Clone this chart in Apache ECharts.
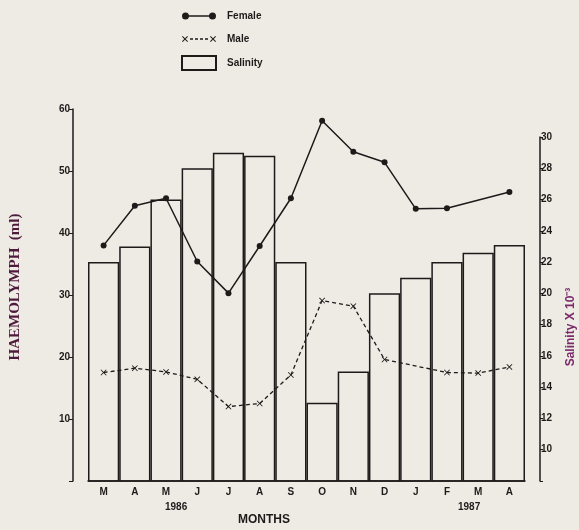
<!DOCTYPE html>
<html>
<head>
<meta charset="utf-8">
<script src="https://cdn.jsdelivr.net/npm/echarts@6/dist/echarts.min.js"></script>
<style>
  html, body { margin: 0; padding: 0; background: #eeebe5; }
  #chart { width: 579px; height: 530px; }
</style>
</head>
<body>
<div id="chart"></div>
<script>
// months Mar 1986 .. Apr 1987
var months = ['M', 'A', 'M', 'J', 'J', 'A', 'S', 'O', 'N', 'D', 'J', 'F', 'M', 'A'];
var salinity = [22, 23, 26, 28, 29, 28.8, 22, 13, 15, 20, 21, 22, 22.6, 23.1];
var female = [38, 44.4, 45.6, 35.4, 30.3, 37.9, 45.6, 58.1, 53.1, 51.4, 43.9, 44, null, 46.6];
var male = [17.5, 18.2, 17.6, 16.4, 12.0, 12.5, 17.1, 29.1, 28.2, 19.6, null, 17.5, 17.4, 18.4];
var leftTicks = [0, 60, 10];   // min, max, interval
var rightTicks = [8, 30, 2];

var ink = '#1e1a1a';
var crossPath = 'path://M0,1L1,0L5,4L9,0L10,1L6,5L10,9L9,10L5,6L1,10L0,9L4,5Z';
var boldFont = { color: ink, fontSize: 10, fontWeight: 'bold', fontFamily: 'Liberation Sans' };

// legend icons: marker at each end like the printed key (34 x 14 box)
var pad = 'M0,0L0.01,0L0,0.01Z M34,14L33.99,14L34,13.99Z ';
function dot(cx) {
    return 'M' + (cx - 3.5) + ',7A3.5,3.5,0,1,1,' + (cx + 3.5) + ',7A3.5,3.5,0,1,1,' + (cx - 3.5) + ',7Z ';
}
function cross(cx) {
    var p = [[-3, -2.3], [-2.3, -3], [0, -0.7], [2.3, -3], [3, -2.3], [0.7, 0],
             [3, 2.3], [2.3, 3], [0, 0.7], [-2.3, 3], [-3, 2.3], [-0.7, 0]];
    return p.map(function (q, i) { return (i ? 'L' : 'M') + (cx + q[0]) + ',' + (7 + q[1]); }).join('') + 'Z ';
}
var femaleIcon = 'path://' + pad + dot(3.5) + 'M6,6.2L28,6.2L28,7.8L6,7.8Z ' + dot(30.5);
var maleIcon = 'path://' + pad + cross(3) +
    'M8,6.3L11,6.3L11,7.7L8,7.7Z M13,6.3L16,6.3L16,7.7L13,7.7Z M18,6.3L21,6.3L21,7.7L18,7.7Z M23,6.3L26,6.3L26,7.7L23,7.7Z ' +
    cross(31);

var chart = echarts.init(document.getElementById('chart'));
var option = {
    backgroundColor: '#eeebe5',
    animation: false,
    legend: {
        orient: 'vertical',
        left: 176,
        top: 4,
        itemWidth: 34,
        itemHeight: 14,
        itemGap: 9,
        data: [
            { name: 'Female', icon: femaleIcon },
            { name: 'Male', icon: maleIcon },
            { name: 'Salinity', icon: 'rect' }
        ],
        textStyle: { color: ink, fontSize: 10, fontWeight: 'bold', fontFamily: 'Liberation Sans', padding: [0, 0, 0, 6] }
    },
    grid: [
        { left: 88, right: 54, top: 109, bottom: 49, outerBoundsMode: 'none' },
        { left: 88, right: 54, top: 137, bottom: 49, outerBoundsMode: 'none' }
    ],
    xAxis: [
        {
            gridIndex: 0,
            type: 'category',
            data: months,
            axisLine: { lineStyle: { color: ink, width: 1.5 } },
            axisTick: { show: false },
            axisLabel: { color: ink, fontSize: 10, fontWeight: 'bold', fontFamily: 'Liberation Sans', margin: 6 }
        },
        {
            gridIndex: 1,
            type: 'category',
            data: months,
            show: false
        }
    ],
    yAxis: [
        {
            gridIndex: 0,
            type: 'value',
            position: 'left',
            offset: 15,
            min: leftTicks[0],
            max: leftTicks[1],
            interval: leftTicks[2],
            name: 'HAEMOLYMPH  (ml)',
            nameLocation: 'middle',
            nameGap: 50,
            nameRotate: 90,
            nameTextStyle: { color: '#4e1a3c', fontSize: 15, fontWeight: 'bold', fontFamily: 'Liberation Serif', padding: [0, 0, 0, 16] },
            axisLine: { show: true, lineStyle: { color: ink, width: 1.5 } },
            axisTick: { show: true, length: 4, lineStyle: { color: ink } },
            axisLabel: Object.assign({ margin: 3, formatter: function (v) { return v === 0 ? '' : v; } }, boldFont),
            splitLine: { show: false }
        },
        {
            gridIndex: 1,
            type: 'value',
            position: 'right',
            offset: 15,
            min: rightTicks[0],
            max: rightTicks[1],
            interval: rightTicks[2],
            name: 'Salinity X 10\u207B\u00B3',
            nameLocation: 'middle',
            nameGap: 25,
            nameRotate: 90,
            nameTextStyle: { color: '#7b2a6c', fontSize: 12, fontWeight: 'bold', fontFamily: 'Liberation Sans', padding: [0, 36, 0, 0] },
            axisLine: { show: true, lineStyle: { color: ink, width: 1.5 } },
            axisTick: { show: true, length: 3, lineStyle: { color: ink } },
            axisLabel: Object.assign({ margin: 1, formatter: function (v) { return v === 8 ? '' : v; } }, boldFont),
            splitLine: { show: false }
        }
    ],
    series: [
        {
            name: 'Salinity',
            type: 'bar',
            xAxisIndex: 1,
            yAxisIndex: 1,
            data: salinity,
            barWidth: '100%',
            z: 1,
            itemStyle: { color: 'rgba(0,0,0,0)', borderColor: ink, borderWidth: 1.5 }
        },
        {
            name: 'Female',
            type: 'line',
            xAxisIndex: 0,
            yAxisIndex: 0,
            data: female,
            connectNulls: true,
            symbol: 'circle',
            symbolSize: 6,
            z: 5,
            itemStyle: { color: ink },
            lineStyle: { color: ink, width: 1.5 }
        },
        {
            name: 'Male',
            type: 'line',
            xAxisIndex: 0,
            yAxisIndex: 0,
            data: male,
            connectNulls: true,
            symbol: crossPath,
            symbolSize: 6,
            z: 5,
            itemStyle: { color: ink },
            lineStyle: { color: ink, width: 1.3, type: [4, 3] }
        }
    ],
    graphic: [
        { type: 'text', left: 165, top: 502, style: { text: '1986', fill: ink, font: 'bold 10px "Liberation Sans"' } },
        { type: 'text', left: 458, top: 502, style: { text: '1987', fill: ink, font: 'bold 10px "Liberation Sans"' } },
        { type: 'text', left: 238, top: 514, style: { text: 'MONTHS', fill: ink, font: 'bold 12px "Liberation Sans"' } }
    ]
};
chart.setOption(option);
</script>
</body>
</html>
